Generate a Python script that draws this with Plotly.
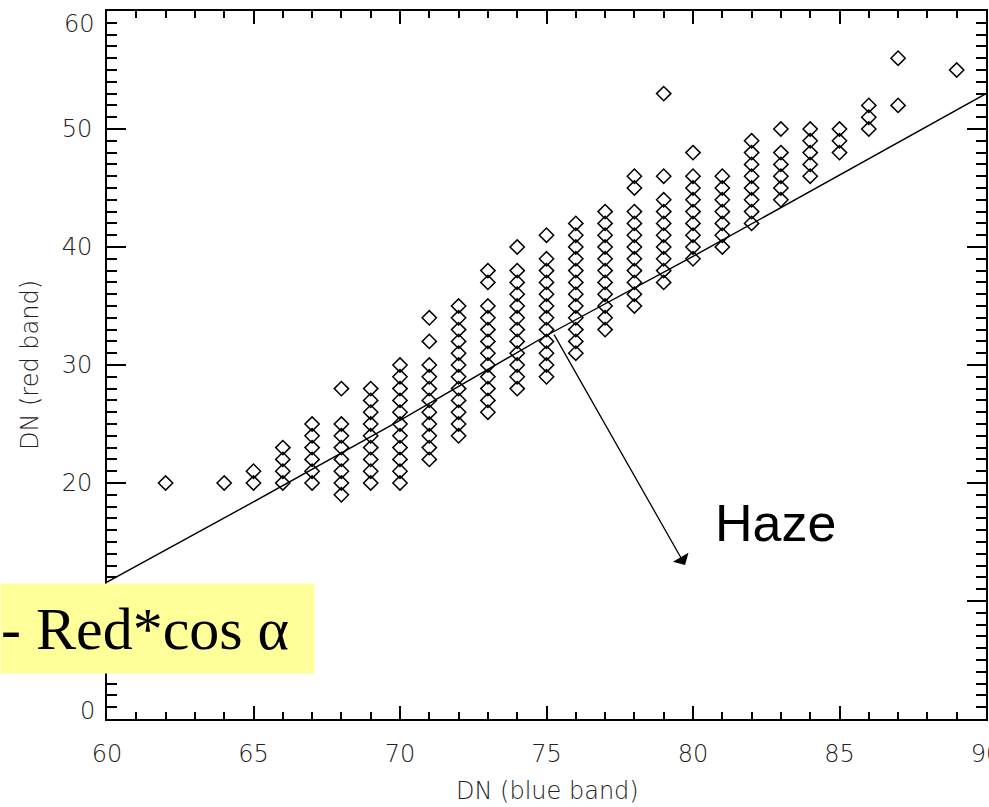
import plotly.graph_objects as go

# ---- data ----
blue_cols = [62, 64, 65, 66, 67, 68, 69, 70, 71, 72, 73, 74, 75, 76, 77, 78, 79, 80, 81, 82, 83, 84, 85, 86, 87, 89]
red_vals = [
    [20],
    [20],
    [20, 21],
    [20, 21, 22, 23],
    [20, 21, 22, 23, 24, 25],
    [19, 20, 21, 22, 23, 24, 25, 28],
    [20, 21, 22, 23, 24, 25, 26, 27, 28],
    [20, 21, 22, 23, 24, 25, 26, 27, 28, 29, 30],
    [22, 23, 24, 25, 26, 27, 28, 29, 30, 32, 34],
    [24, 25, 26, 27, 28, 29, 30, 31, 32, 33, 34, 35],
    [26, 27, 28, 29, 30, 31, 32, 33, 34, 35, 37, 38],
    [28, 29, 30, 31, 32, 33, 34, 35, 36, 37, 38, 40],
    [29, 30, 31, 32, 33, 34, 35, 36, 37, 38, 39, 41],
    [31, 32, 33, 34, 35, 36, 37, 38, 39, 40, 41, 42],
    [33, 34, 35, 36, 37, 38, 39, 40, 41, 42, 43],
    [35, 36, 37, 38, 39, 40, 41, 42, 43, 45, 46],
    [37, 38, 39, 40, 41, 42, 43, 44, 46, 53],
    [39, 40, 41, 42, 43, 44, 45, 46, 48],
    [40, 41, 42, 43, 44, 45, 46],
    [42, 43, 44, 45, 46, 47, 48, 49],
    [44, 45, 46, 47, 48, 50],
    [46, 47, 48, 49, 50],
    [48, 49, 50],
    [50, 51, 52],
    [52, 56],
    [55],
]

fit_x = [60, 65, 70, 75, 80, 85, 90]
fit_y = [11.6, 18.4, 25.3, 32.5, 39.2, 46.1, 53.0]

x_tick_vals = [60, 65, 70, 75, 80, 85, 90]
x_tick_labels = ["60", "65", "70", "75", "80", "85", "90"]
y_tick_vals = [0, 10, 20, 30, 40, 50, 60]
y_tick_labels = ["0", "10", "20", "30", "40", "50", "60"]

haze_arrow_from = (75.23, 32.7)
haze_arrow_to = (79.73, 13.05)

# ---- build points ----
px, py = [], []
for xv, ys in zip(blue_cols, red_vals):
    for yv in ys:
        px.append(xv)
        py.append(yv)

tick_font = dict(family="DejaVu Sans", size=24, color="#222222", weight=300)

fig = go.Figure()
fig.add_trace(go.Scatter(
    x=fit_x, y=fit_y, mode="lines",
    line=dict(color="black", width=1.4),
    hoverinfo="skip", showlegend=False,
))
fig.add_trace(go.Scatter(
    x=px, y=py, mode="markers",
    marker=dict(symbol="diamond-open", size=11, color="black", line=dict(width=1.5, color="black")),
    showlegend=False,
))

# y tick labels: 0 and 60 nudged inward as in the reference; 10 is hidden under the yellow box there
y_text_axis = [t if v not in (0, 10, 60) else "" for v, t in zip(y_tick_vals, y_tick_labels)]

fig.update_xaxes(
    range=[60, 90], showgrid=False, zeroline=False,
    showline=True, linecolor="black", linewidth=2, mirror="ticks",
    ticks="inside", ticklen=13, tickwidth=1.5, tickcolor="black",
    tickvals=x_tick_vals, ticktext=x_tick_labels,
    tickfont=tick_font, ticklabelstandoff=12, ticklabeloverflow="allow",
    minor=dict(ticks="inside", dtick=1, ticklen=7, tickwidth=1.5, tickcolor="black", showgrid=False),
)
fig.update_yaxes(
    range=[0, 60], showgrid=False, zeroline=False,
    showline=True, linecolor="black", linewidth=2, mirror="ticks",
    ticks="inside", ticklen=19, tickwidth=1.5, tickcolor="black",
    tickvals=y_tick_vals, ticktext=y_text_axis,
    tickfont=tick_font, ticklabelstandoff=8,
    minor=dict(ticks="inside", dtick=1, ticklen=10, tickwidth=1.5, tickcolor="black", showgrid=False),
    title=dict(text="DN (red band)", font=tick_font, standoff=16),
)

annotations = [
    dict(xref="paper", yref="y", x=0, y=60, text=y_tick_labels[-1], showarrow=False,
         xanchor="right", yanchor="middle", xshift=-10, yshift=-13, font=tick_font),
    dict(xref="paper", yref="y", x=0, y=0, text=y_tick_labels[0], showarrow=False,
         xanchor="right", yanchor="middle", xshift=-10, yshift=8, font=tick_font),
    dict(xref="paper", yref="paper", x=(547 - 107) / 879, y=(719 - 791) / 708,
         xanchor="center", yanchor="middle", text="DN (blue band)", showarrow=False, font=tick_font),
    dict(xref="x", yref="y", x=haze_arrow_to[0], y=haze_arrow_to[1],
         axref="x", ayref="y", ax=haze_arrow_from[0], ay=haze_arrow_from[1],
         text="", showarrow=True, arrowhead=1, arrowsize=2.3, arrowwidth=1.3, arrowcolor="black"),
    dict(xref="x", yref="y", x=82.8, y=16.65, text="Haze", showarrow=False,
         xanchor="center", yanchor="middle",
         font=dict(family="Liberation Sans, Arial", size=52, color="black")),
    dict(xref="paper", yref="paper", x=-107 / 879, y=(719 - 628.5) / 708,
         xanchor="left", yanchor="middle", text="- Red*cos α", showarrow=False,
         width=313, height=89, align="left", borderpad=0, bgcolor="#FFFF99",
         font=dict(family="Liberation Serif, Times New Roman", size=60, color="black")),
]

fig.update_layout(
    width=989, height=807,
    margin=dict(l=107, r=3, t=11, b=88, autoexpand=False),
    paper_bgcolor="white", plot_bgcolor="white",
    annotations=annotations,
)

fig.write_html("out.html")
